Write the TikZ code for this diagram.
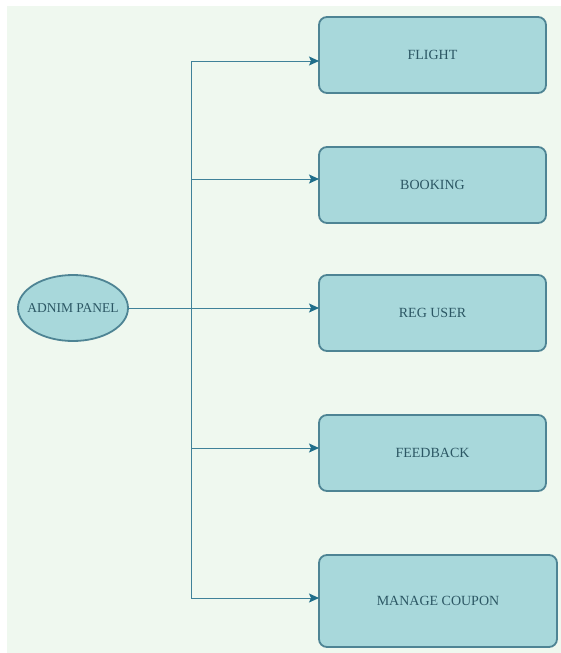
\documentclass[tikz,border=0pt]{standalone}
\usepackage{fontspec}
\setmainfont{Liberation Serif}
\usepackage{tikz}
\usetikzlibrary{shapes,arrows.meta,positioning,calc}

\definecolor{bgcol}{HTML}{EFF8EF}
\definecolor{boxfill}{HTML}{A8D8DB}
\definecolor{boxline}{HTML}{4E8494}
\definecolor{txtcol}{HTML}{2C5764}
\definecolor{linkcol}{HTML}{3F8199}
\definecolor{tipcol}{HTML}{206E8A}

\begin{document}
\begin{tikzpicture}[
    x=1pt, y=-1pt,
    module/.style={draw=boxline, fill=boxfill, line width=1.8pt, rounded corners=8pt,
        minimum width=227pt, minimum height=76pt, outer sep=0pt, text=txtcol,
        font=\fontsize{14}{16}\selectfont},
    hub/.style={ellipse, draw=boxline, fill=boxfill, line width=1.8pt,
        minimum width=110pt, minimum height=66pt, inner xsep=-14pt, inner ysep=0pt,
        outer sep=0pt, text=txtcol, font=\fontsize{13.5}{15}\selectfont},
    link/.style={draw=linkcol, line width=1pt},
    link-arr/.style={link, -{Stealth[length=10pt, width=9pt, inset=2pt, color=tipcol]}}
]

    % Background
    \useasboundingbox (0,0) rectangle (561,653);
    \fill[bgcol] (7,6) rectangle (561,653);

    % Nodes
    \node[hub] (admin) at (73,308) {ADNIM PANEL};
    \node[module] (flight) at (432.5,55) {FLIGHT};
    \node[module] (booking) at (432.5,185) {BOOKING};
    \node[module] (reguser) at (432.5,313) {REG USER};
    \node[module] (feedback) at (432.5,453) {FEEDBACK};
    \node[module, minimum width=238pt, minimum height=92pt] (coupon) at (438,601) {MANAGE COUPON};

    % Trunk
    \coordinate (trunk) at (191,308);
    \coordinate (trunk-top) at (191,61);
    \coordinate (trunk-bot) at (191,598);
    \draw[link] (trunk-top) -- (trunk-bot);

    % Connectors
    \draw[link-arr] (admin.east) -- ([yshift=5pt]reguser.west);
    \draw[link-arr] (trunk-top) -- ([yshift=-6pt]flight.west);
    \draw[link-arr] (trunk |- 0,179) -- ([yshift=6pt]booking.west);
    \draw[link-arr] (trunk |- 0,448) -- ([yshift=5pt]feedback.west);
    \draw[link-arr] (trunk-bot) -- ([yshift=3pt]coupon.west);

\end{tikzpicture}
\end{document}
